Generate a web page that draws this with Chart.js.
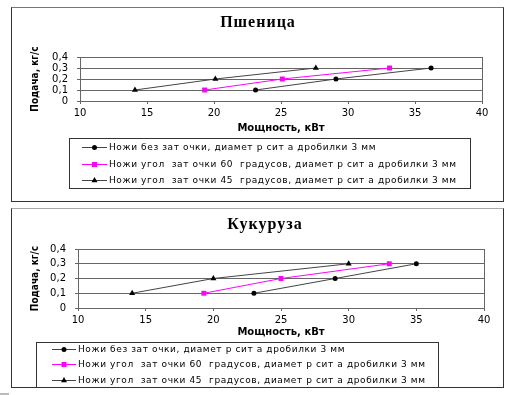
<!DOCTYPE html>
<html>
<head>
<meta charset="utf-8">
<script src="https://cdn.jsdelivr.net/npm/chart.js@4/dist/chart.umd.min.js"></script>
<style>
  body { margin: 0; background: #fff; width: 511px; height: 395px; position: relative; overflow: hidden; }
  .box { position: absolute; left: 11px; width: 491px; border: 1px solid #333; }
  #box1 { top: 7px; height: 193px; border-top-color: #777; }
  #box2 { top: 208px; height: 178px; border-top-color: #aaa; }
  canvas { display: block; }
  .mark { position: absolute; left: 0; top: 393px; width: 9px; height: 2px; background: #bbb; }
</style>
</head>
<body>
<div class="box" id="box1"><canvas id="wheat" width="491" height="193"></canvas></div>
<div class="box" id="box2"><canvas id="corn" width="491" height="178"></canvas></div>
<div class="mark"></div>
<script>
// series names as printed in the legend
const seriesNames = [
  "Ножи без зат очки, диамет р сит а дробилки 3 мм",
  "Ножи угол  зат очки 60  градусов, диамет р сит а дробилки 3 мм",
  "Ножи угол  зат очки 45  градусов, диамет р сит а дробилки 3 мм",
]
// feed rate, kg/s (y) - same for every series
const feedRates = [0.1, 0.2, 0.3]
// power, kW (x)
const wheatNoSharp = [23.1, 29.1, 36.2]
const wheat60 = [19.3, 25.1, 33.1]
const wheat45 = [14.1, 20.1, 27.6]
const cornNoSharp = [23.0, 29.0, 35.0]
const corn60 = [19.3, 25.0, 33.0]
const corn45 = [14.0, 20.0, 30.0]

const xTickLabels = ["10", "15", "20", "25", "30", "35", "40"]
const yTickLabels = ["0", "0,1", "0,2", "0,3", "0,4"]

const lineColors = ["#444", "#ff00ff", "#444"]
const markerColors = ["#000", "#ff00ff", "#000"]
const markerStyles = ["circle", "rect", "triangle"]
const markerSizes = [2.5, 3.5, 3.5]

const TICK_FONT = { family: "'DejaVu Sans', sans-serif", size: 10 }

// title, plot border on the right and an Excel-like boxed legend
const frame = {
  id: "frame",
  afterDraw(chart, args, opts) {
    const { ctx, chartArea } = chart
    ctx.save()
    ctx.strokeStyle = "#666"
    ctx.lineWidth = 1
    const rx = Math.round(chartArea.right) + 0.5
    ctx.beginPath()
    ctx.moveTo(rx, chartArea.top)
    ctx.lineTo(rx, chartArea.bottom)
    ctx.stroke()

    ctx.fillStyle = "#000"
    ctx.font = "bold 16px 'Liberation Serif', serif"
    ctx.letterSpacing = "1px"
    ctx.textAlign = "center"
    ctx.textBaseline = "middle"
    ctx.fillText(opts.title, opts.titleX, opts.titleY)

    const lg = opts.legend
    ctx.strokeStyle = "#333"
    ctx.strokeRect(lg.x + 0.5, lg.y + 0.5, lg.w, lg.h)
    ctx.font = "9px 'DejaVu Sans', sans-serif"
    ctx.letterSpacing = "0.6px"
    ctx.textAlign = "left"
    chart.data.datasets.forEach((ds, i) => {
      const y = lg.rows[i] + 0.5
      ctx.strokeStyle = ds.borderColor
      ctx.beginPath()
      ctx.moveTo(lg.lineX0, y)
      ctx.lineTo(lg.lineX1, y)
      ctx.stroke()
      ctx.fillStyle = ds.backgroundColor
      Chart.helpers.drawPoint(ctx, { pointStyle: ds.pointStyle, radius: ds.pointRadius, borderWidth: 0, rotation: 0 },
        (lg.lineX0 + lg.lineX1) / 2, y)
      ctx.fillStyle = "#000"
      ctx.fillText(ds.label, lg.textX, y)
    })
    ctx.restore()
  },
}

function makeChart(id, powers, o) {
  return new Chart(document.getElementById(id), {
    type: "scatter",
    data: {
      datasets: powers.map((vals, i) => ({
        label: seriesNames[i],
        data: vals.map((x, j) => ({ x: x, y: feedRates[j] })),
        showLine: true,
        borderColor: lineColors[i],
        backgroundColor: markerColors[i],
        borderWidth: 1,
        pointStyle: markerStyles[i],
        pointRadius: markerSizes[i],
        pointBorderWidth: 0,
      })),
    },
    options: {
      responsive: false,
      animation: false,
      devicePixelRatio: 1,
      layout: { padding: o.padding },
      scales: {
        x: {
          type: "linear",
          min: 10,
          max: 40,
          ticks: { stepSize: 5, autoSkip: false, callback: (v, i) => xTickLabels[i], color: "#000", font: TICK_FONT, padding: 3, maxRotation: 0 },
          grid: { drawOnChartArea: false, tickLength: 3, color: "#666" },
          border: { color: "#666" },
          title: {
            display: true,
            text: "Мощность, кВт",
            color: "#000",
            font: { family: "'DejaVu Sans', sans-serif", size: 10, weight: "bold" },
            padding: { top: 0, bottom: o.xTitlePad },
          },
          afterFit: (s) => { s.height = o.xAxisH },
        },
        y: {
          min: 0,
          max: 0.4,
          ticks: { stepSize: 0.1, autoSkip: false, callback: (v, i) => yTickLabels[i], color: "#000", font: TICK_FONT, padding: 9 },
          grid: { color: "#666", tickLength: 3 },
          border: { color: "#666" },
          title: {
            display: true,
            text: "Подача, кг/с",
            color: "#000",
            font: { family: "'Liberation Sans Narrow', 'DejaVu Sans Condensed', sans-serif", size: 10, weight: "bold" },
            padding: { top: 17, bottom: 0 },
          },
          afterFit: (s) => { s.width = o.yAxisW },
        },
      },
      plugins: {
        legend: { display: false },
        tooltip: { enabled: false },
        frame: o.frame,
      },
    },
    plugins: [frame],
  })
}

makeChart("wheat", [wheatNoSharp, wheat60, wheat45], {
  padding: { left: 0, right: 21, top: 49, bottom: 60 },
  xAxisH: 40,
  yAxisW: 68,
  xTitlePad: 7,
  frame: {
    title: "Пшеница",
    titleX: 246,
    titleY: 15,
    legend: { x: 57, y: 130, w: 401, h: 50, rows: [139, 156, 172], lineX0: 70, lineX1: 95, textX: 97 },
  },
})

makeChart("corn", [cornNoSharp, corn60, corn45], {
  padding: { left: 0, right: 19, top: 40, bottom: 41 },
  xAxisH: 38,
  yAxisW: 66,
  xTitlePad: 8,
  frame: {
    title: "Кукуруза",
    titleX: 253,
    titleY: 16,
    legend: { x: 24, y: 133, w: 402, h: 50, rows: [140, 155, 171], lineX0: 40, lineX1: 64, textX: 66 },
  },
})
</script>
</body>
</html>
